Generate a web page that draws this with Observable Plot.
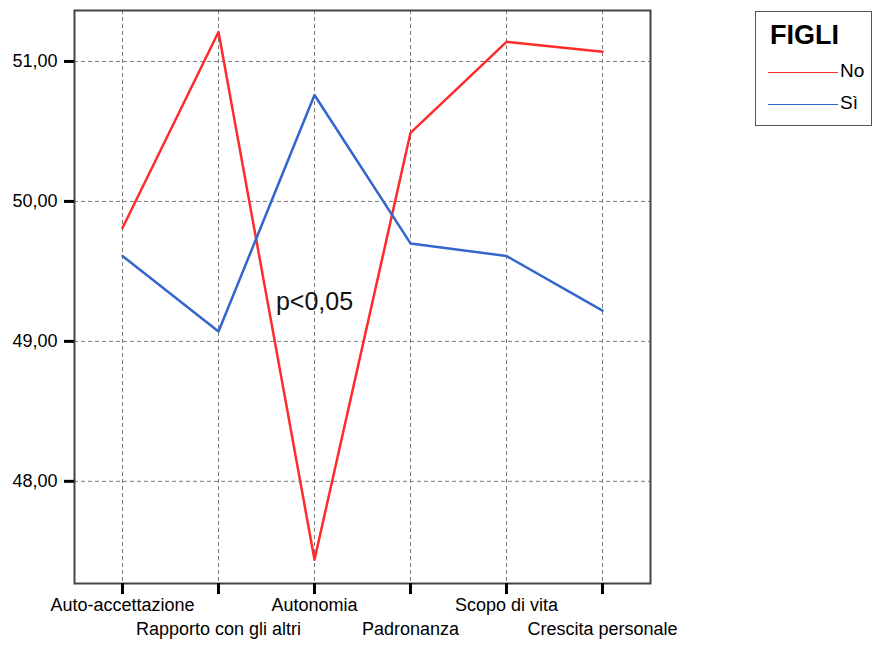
<!DOCTYPE html>
<html>
<head>
<meta charset="utf-8">
<script src="https://cdn.jsdelivr.net/npm/d3@7"></script>
<script src="https://cdn.jsdelivr.net/npm/@observablehq/plot@0.6"></script>
<style>
  html, body { margin: 0; padding: 0; background: #fff; }
  #wrap { position: relative; width: 874px; height: 648px; font-family: Arial, "Liberation Sans", sans-serif; }
  #legend { position: absolute; left: 755px; top: 11px; width: 117px; height: 115px; border: 1px solid #555; box-sizing: border-box; background: #fff; }
  #legend .title { position: absolute; left: 14px; top: 8px; font-weight: bold; font-size: 27px; color: #000; }
  #legend .item { position: absolute; left: 12px; height: 20px; }
  #legend .item .ln { position: absolute; left: 0; top: 10px; width: 70px; height: 0; border-top: 1.5px solid; }
  #legend .item .lb { position: absolute; left: 72px; top: -2px; font-size: 19px; color: #000; }
</style>
</head>
<body>
<div id="wrap"></div>
<script>
const categories = ["Auto-accettazione", "Rapporto con gli altri", "Autonomia", "Padronanza", "Scopo di vita", "Crescita personale"];
const seriesNames = ["No", "Sì"];
const valuesNo = [49.81, 51.21, 47.44, 50.49, 51.14, 51.07];
const valuesSi = [49.61, 49.07, 50.76, 49.70, 49.61, 49.22];
const yTicks = [48, 49, 50, 51];
const colors = ["#ff2b2b", "#3366cc"];
const annotation = [{x: "Autonomia", y: 49.28, text: "p<0,05"}];

const data = [];
categories.forEach((c, i) => {
  data.push({cat: c, value: valuesNo[i], series: seriesNames[0]});
  data.push({cat: c, value: valuesSi[i], series: seriesNames[1]});
});
const even = categories.filter((d, i) => i % 2 === 0);
const odd = categories.filter((d, i) => i % 2 === 1);
const fmt = d => d.toFixed(2).replace(".", ",");

const chart = Plot.plot({
  width: 874,
  height: 648,
  marginLeft: 74,
  marginRight: 224,
  marginTop: 10,
  marginBottom: 65,
  style: {fontFamily: "Arial, 'Liberation Sans', sans-serif", background: "#fff", color: "#000"},
  x: {type: "point", domain: categories, padding: 0.5},
  y: {domain: [47.27, 51.364]},
  color: {domain: seriesNames, range: colors},
  marks: [
    Plot.gridX(categories, {stroke: "#7a7a7a", strokeOpacity: 1, strokeDasharray: "4,3", strokeWidth: 1}),
    Plot.gridY(yTicks, {stroke: "#7a7a7a", strokeOpacity: 1, strokeDasharray: "4,3", strokeWidth: 1}),
    Plot.frame({stroke: "#444", strokeWidth: 2}),
    Plot.axisX(categories, {tickSize: 11, strokeWidth: 3, tickFormat: () => "", label: null}),
    Plot.axisX(even, {tickSize: 0, tickPadding: 15, fontSize: 18, label: null}),
    Plot.axisX(odd, {tickSize: 0, tickPadding: 39, fontSize: 18, label: null}),
    Plot.axisY(yTicks, {tickSize: 10, strokeWidth: 3, tickPadding: 7, fontSize: 18, tickFormat: fmt, label: null}),
    Plot.line(data, {x: "cat", y: "value", z: "series", stroke: "series", strokeWidth: 2.5}),
    Plot.text(annotation, {x: "x", y: "y", text: "text", fontSize: 25, fill: "#111"})
  ]
});

const wrap = document.getElementById("wrap");
wrap.appendChild(chart);

const legend = document.createElement("div");
legend.id = "legend";
let html = `<div class="title">FIGLI</div>`;
seriesNames.forEach((s, i) => {
  html += `<div class="item" style="top:${50 + i * 32}px"><div class="ln" style="border-color:${colors[i]}"></div><div class="lb">${s}</div></div>`;
});
legend.innerHTML = html;
wrap.appendChild(legend);
</script>
</body>
</html>
